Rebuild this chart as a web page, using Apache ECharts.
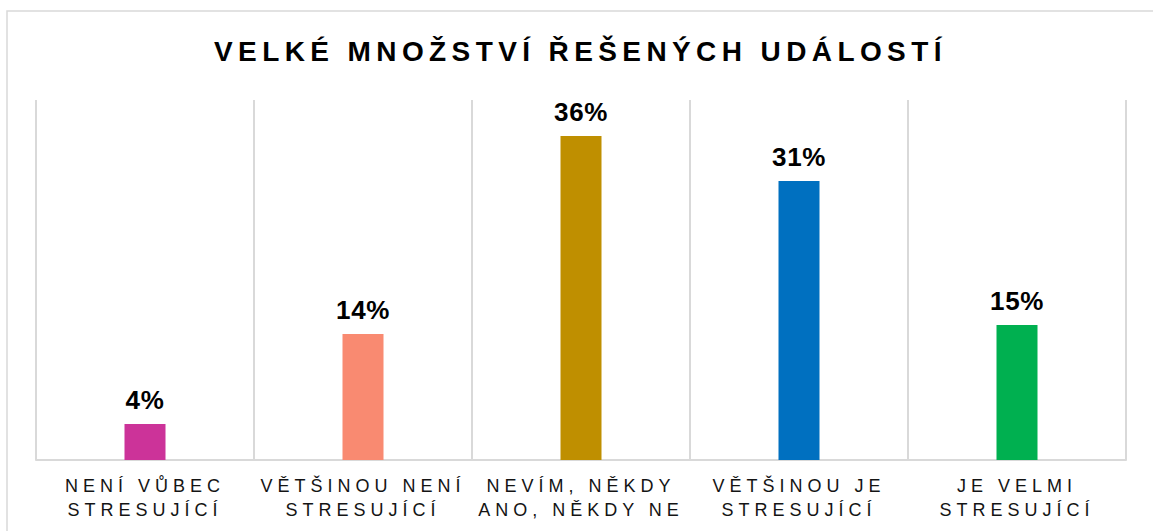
<!DOCTYPE html>
<html>
<head>
<meta charset="utf-8">
<script src="https://cdn.jsdelivr.net/npm/echarts@6/dist/echarts.min.js"></script>
<style>
  html, body { margin: 0; padding: 0; background: #fff; }
  #main { width: 1153px; height: 531px; }
  /* letter spacing per text size (svg renderer) */
  #main text[style*="28px"] { letter-spacing: 5.4px; }
  #main text[style*="18px"] { letter-spacing: 5px; }
  #main text[style*="26px"] { letter-spacing: 0.6px; }
</style>
</head>
<body>
<div id="main"></div>
<script>
var titleText = 'VELKÉ MNOŽSTVÍ ŘEŠENÝCH UDÁLOSTÍ';
var categories = [
  'NENÍ VŮBEC\nSTRESUJÍCÍ',
  'VĚTŠINOU NENÍ\nSTRESUJÍCÍ',
  'NEVÍM, NĚKDY\nANO, NĚKDY NE',
  'VĚTŠINOU JE\nSTRESUJÍCÍ',
  'JE VELMI\nSTRESUJÍCÍ'
];
var values = [4, 14, 36, 31, 15];
var colors = ['#CC3399', '#F98A71', '#BF8F00', '#0070C0', '#00B050'];

var chart = echarts.init(document.getElementById('main'), null, { renderer: 'svg' });

var option = {
  animation: false,
  backgroundColor: '#fff',
  title: {
    text: titleText,
    left: 209,
    top: 32,
    textStyle: {
      fontFamily: 'Liberation Sans, Arial, sans-serif',
      fontSize: 28,
      fontWeight: 'bold',
      color: '#000'
    }
  },
  graphic: [{
    type: 'rect',
    silent: true,
    shape: { x: 7, y: 11, width: 1200, height: 600 },
    style: { fill: 'none', stroke: '#d9d9d9', lineWidth: 1.5 }
  }],
  grid: {
    left: 36,
    right: 27,
    top: 100,
    bottom: 71,
    containLabel: false
  },
  xAxis: {
    type: 'category',
    data: categories,
    axisTick: { show: false },
    axisLine: { lineStyle: { color: '#d9d9d9', width: 2 } },
    splitLine: { show: true, lineStyle: { color: '#d9d9d9', width: 2 } },
    axisLabel: {
      interval: 0,
      margin: 14,
      fontFamily: 'Liberation Sans, Arial, sans-serif',
      fontSize: 18,
      lineHeight: 24,
      color: '#141414'
    }
  },
  yAxis: {
    type: 'value',
    min: 0,
    max: 40,
    show: false
  },
  series: [{
    type: 'bar',
    barWidth: 41,
    data: values.map(function (v, i) {
      return { value: v, itemStyle: { color: colors[i] } };
    }),
    label: {
      show: true,
      position: 'top',
      distance: 11,
      formatter: '{c}%',
      fontFamily: 'Liberation Sans, Arial, sans-serif',
      fontSize: 26,
      fontWeight: 'bold',
      color: '#000'
    }
  }]
};
chart.setOption(option);
</script>
</body>
</html>
